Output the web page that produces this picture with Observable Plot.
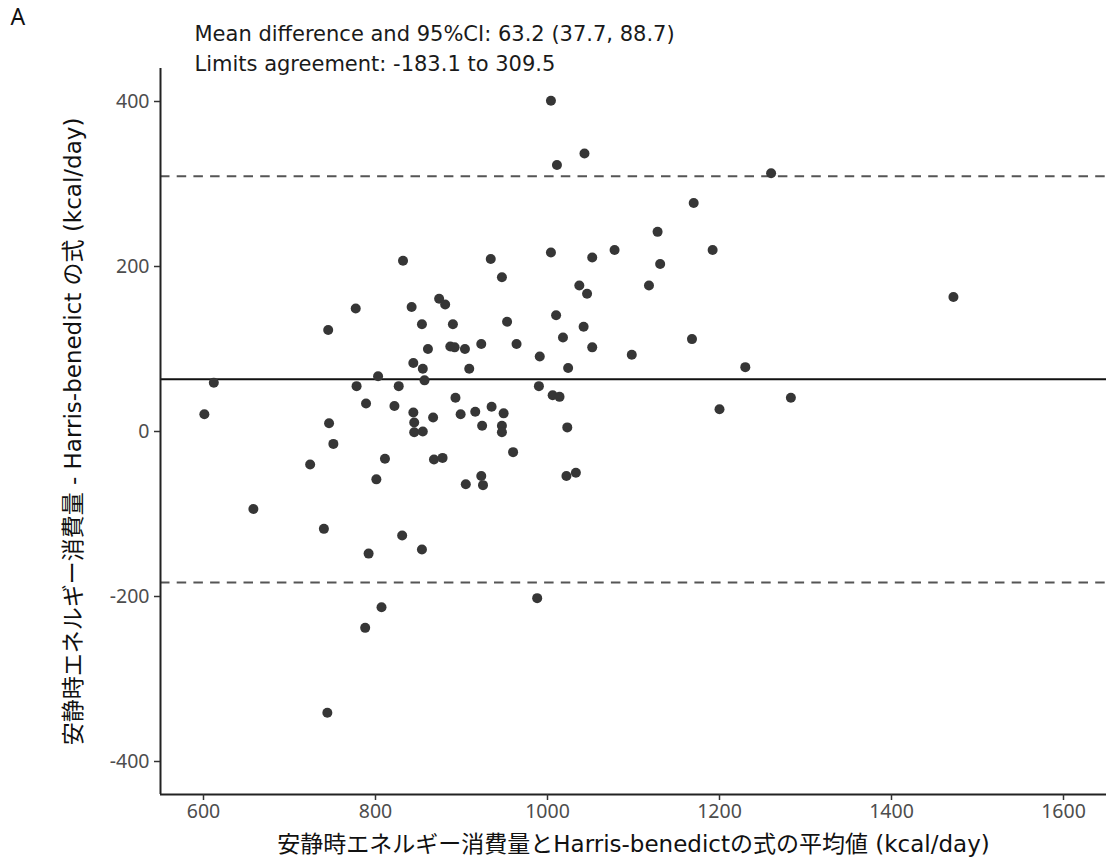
<!DOCTYPE html>
<html><head><meta charset="utf-8">
<script src="https://cdn.jsdelivr.net/npm/d3@7"></script>
<script src="https://cdn.jsdelivr.net/npm/@observablehq/plot@0.6"></script>
<style>
body{margin:0;background:#fff;}
#chart svg{display:block;}
</style></head><body><div id="chart"></div>
<script>
// Mean of the two measurements (kcal/day)
const meanX = [832,777,745,842,874,881,854,890,887,892,904,923,861,844,855,909,803,612,857,778,827,601,789,822,893,844,899,916,867,845,845,855,746,751,724,811,868,878,801,905,658,740,831,792,854,807,788,744,
1004,1011,1043,1260,1170,1128,1192,1078,1004,1052,934,1131,947,1037,1046,1118,953,1010,1042,1018,964,991,1052,1098,1168,1024,1230,990,1006,1014,1200,935,949,924,947,947,1023,960,923,925,1022,1033,988,1472,1283];
// Difference of the two measurements (kcal/day)
const diffY = [207,149,123,151,161,154,130,130,103,102,100,106,100,83,76,76,67,59,62,55,55,21,34,31,41,23,21,24,17,11,-1,0,10,-15,-40,-33,-34,-32,-58,-64,-94,-118,-126,-148,-143,-213,-238,-341,
401,323,337,313,277,242,220,220,217,211,209,203,187,177,167,177,133,141,127,114,106,91,102,93,112,77,78,55,44,42,27,30,22,7,7,-1,5,-25,-54,-65,-54,-50,-202,163,41];

const xTicks = [600,800,1000,1200,1400,1600];
const yTicks = [-400,-200,0,200,400];
const xDomain = [550,1650];
const yDomain = [-440,440];
const meanDiff = [63.2];
const limitsAgreement = [-183.1, 309.5];
const panelLabel = ["A"];
const annotLine1 = ["Mean difference and 95%CI: 63.2 (37.7, 88.7)"];
const annotLine2 = ["Limits agreement: -183.1 to 309.5"];
const xLabel = ["安静時エネルギー消費量とHarris-benedictの式の平均値 (kcal/day)"];
const yLabel = ["安静時エネルギー消費量 - Harris-benedict の式 (kcal/day)"];

const points = meanX.map((x, i) => ({x, y: diffY[i]}));
const tickFont = '"Noto Sans", "Noto Sans CJK JP", sans-serif';
const textFont = '"DejaVu Sans", "Noto Sans CJK JP", sans-serif';
const ident = d => d;
const fmt = d => String(d);

const chart = Plot.plot({
  width: 1107, height: 868,
  marginTop: 68, marginBottom: 74, marginLeft: 160, marginRight: 1,
  style: {fontFamily: tickFont, background: "#fff", overflow: "visible"},
  x: {domain: xDomain},
  y: {domain: yDomain},
  marks: [
    Plot.ruleY(limitsAgreement, {stroke: "#555", strokeWidth: 2, strokeDasharray: "9.5,7.2"}),
    Plot.ruleY(meanDiff, {stroke: "#111", strokeWidth: 2}),
    Plot.dot(points, {x: "x", y: "y", r: 5, fill: "#363636", stroke: "none"}),
    Plot.ruleY([yDomain[0]], {stroke: "#222", strokeWidth: 2}),
    Plot.ruleX([xDomain[0]], {stroke: "#222", strokeWidth: 2}),
    Plot.axisX({ticks: xTicks, tickFormat: fmt, tickSize: 6, tickPadding: 4, fontSize: 19.5, label: null, stroke: "#333", fill: "#4d4d4d", strokeWidth: 1.5}),
    Plot.axisY({ticks: yTicks, tickFormat: fmt, tickSize: 6, tickPadding: 5, fontSize: 19.5, label: null, stroke: "#333", fill: "#4d4d4d", strokeWidth: 1.5}),
    Plot.text(panelLabel, {text: ident, frameAnchor: "top-left", textAnchor: "start", lineAnchor: "bottom", dx: -150, dy: -43.7, fontSize: 23, fontFamily: tickFont, fill: "#111"}),
    Plot.text(annotLine1, {text: ident, frameAnchor: "top-left", textAnchor: "start", lineAnchor: "bottom", dx: 34, dy: -27.3, fontSize: 21, fontFamily: textFont, fill: "#1a1a1a"}),
    Plot.text(annotLine2, {text: ident, frameAnchor: "top-left", textAnchor: "start", lineAnchor: "bottom", dx: 34, dy: 2, fontSize: 21, fontFamily: textFont, fill: "#1a1a1a"}),
    Plot.text(xLabel, {text: ident, frameAnchor: "bottom", textAnchor: "middle", dy: 57, fontSize: 23, fontFamily: textFont, fill: "#111"}),
    Plot.text(yLabel, {text: ident, frameAnchor: "left", textAnchor: "middle", dx: -87, rotate: -90, fontSize: 23, fontFamily: textFont, fill: "#111"})
  ]
});
document.getElementById("chart").append(chart);
</script>
</body></html>
